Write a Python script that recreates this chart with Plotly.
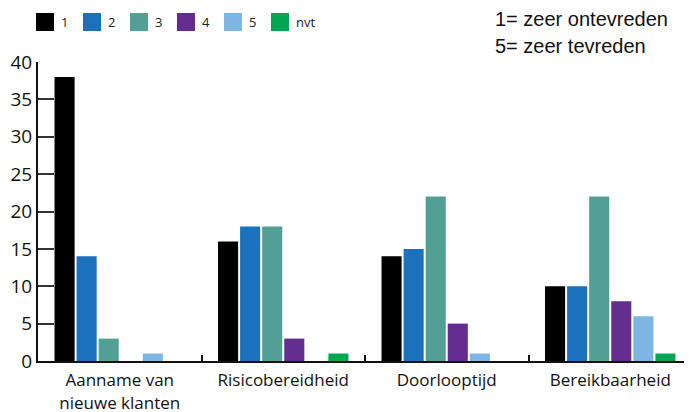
import plotly.graph_objects as go

categories = ["Aanname van<br>nieuwe klanten", "Risicobereidheid", "Doorlooptijd", "Bereikbaarheid"]
series_names = ["1", "2", "3", "4", "5", "nvt"]
values_1 = [38, 16, 14, 10]
values_2 = [14, 18, 15, 10]
values_3 = [3, 18, 22, 22]
values_4 = [0, 3, 5, 8]
values_5 = [1, 0, 1, 6]
values_nvt = [0, 1, 0, 1]
y_ticks = [0, 5, 10, 15, 20, 25, 30, 35, 40]

series_values = [values_1, values_2, values_3, values_4, values_5, values_nvt]
colors = ["#000000", "#1c71bd", "#529f96", "#662d91", "#7cb7e4", "#00a651"]

OFF = 8  # page body margin
W, H = 692 - OFF, 412 - OFF
ML, MR, MT, MB = 38 - OFF, 0, 62 - OFF, 412 - 361
PW, PH = W - ML - MR, H - MT - MB

def px_x(px):
    return (px - OFF - ML) / PW

def px_y(py):
    return (H - MB - (py - OFF)) / PH

fig = go.Figure()
for name, vals, col in zip(series_names, series_values, colors):
    fig.add_trace(go.Bar(x=categories, y=vals, name=name, marker_color=col,
                         marker_line_width=0, showlegend=False))

shapes = []
annotations = []
for i, (name, col) in enumerate(zip(series_names, colors)):
    x0 = 36 + i * 47
    shapes.append(dict(type="rect", xref="paper", yref="paper",
                       x0=px_x(x0), x1=px_x(x0 + 18), y0=px_y(31), y1=px_y(13),
                       fillcolor=col, line_width=0))
    annotations.append(dict(xref="paper", yref="paper", x=px_x(x0 + 23), y=px_y(22),
                            text=name, showarrow=False, xanchor="left", yanchor="middle",
                            font=dict(family="Open Sans", size=13, color="#222")))

annotations.append(dict(xref="paper", yref="paper", x=px_x(493), y=px_y(19),
                        text="1= zeer ontevreden", showarrow=False, xanchor="left",
                        yanchor="middle", font=dict(family="Liberation Sans", size=20, color="#111")))
annotations.append(dict(xref="paper", yref="paper", x=px_x(493), y=px_y(46),
                        text="5= zeer tevreden", showarrow=False, xanchor="left",
                        yanchor="middle", font=dict(family="Liberation Sans", size=20, color="#111")))

fig.update_layout(
    width=W, height=H,
    margin=dict(l=ML, r=MR, t=MT, b=MB, autoexpand=False),
    paper_bgcolor="white", plot_bgcolor="white",
    barmode="group", bargap=0.19, bargroupgap=0.09,
    shapes=shapes, annotations=annotations,
    showlegend=False,
    font=dict(family="Open Sans", color="#111"),
)
fig.update_yaxes(range=[0, 40], tickvals=y_ticks, showgrid=False, zeroline=False,
                 showline=True, linecolor="#111", linewidth=2, automargin=False,
                 ticks="inside", ticklen=16, tickwidth=1.5, tickcolor="#333",
                 ticklabelstandoff=0,
                 tickfont=dict(family="Open Sans", size=19, color="#111"))
fig.update_xaxes(showgrid=False, showline=True, linecolor="#111", linewidth=2, automargin=False,
                 ticks="inside", tickson="boundaries", ticklen=6, tickwidth=1.5, tickcolor="#111",
                 ticklabelstandoff=3,
                 tickfont=dict(family="Open Sans", size=17, color="#111"))

fig.write_html("out.html")
